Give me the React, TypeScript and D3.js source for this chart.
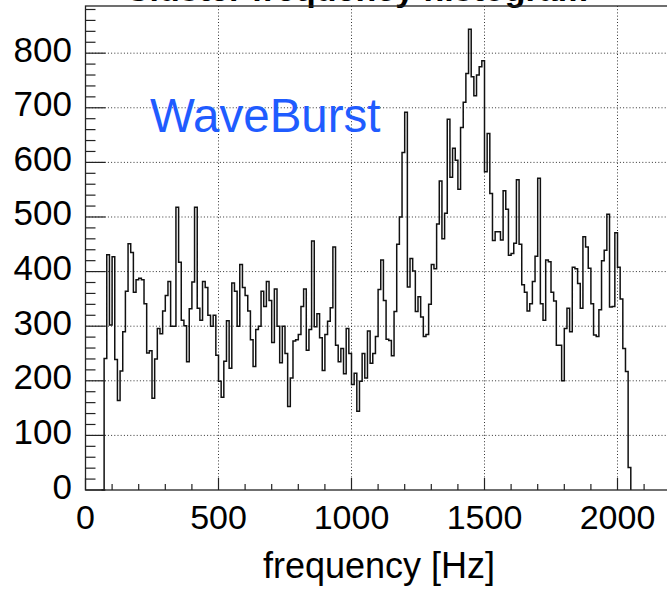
import React from 'react';
import * as d3 from 'd3';

// Histogram: 10 Hz bins, first non-empty bin starts at 70 Hz
const binLow = 70;
const binWidth = 10;
const counts = [
  241, 431, 302, 427, 239, 164, 218, 290, 364, 451,
  435, 362, 385, 388, 385, 341, 251, 255, 168, 240,
  296, 286, 328, 356, 382, 300, 300, 518, 417, 311,
  301, 235, 332, 381, 518, 333, 311, 382, 371, 320,
  300, 320, 247, 199, 170, 236, 310, 223, 379, 364,
  300, 413, 371, 356, 328, 275, 226, 294, 300, 364,
  336, 382, 347, 270, 368, 300, 233, 300, 250, 153,
  205, 273, 275, 285, 336, 368, 256, 294, 456, 299,
  323, 279, 219, 285, 309, 334, 445, 265, 235, 259,
  213, 296, 250, 193, 214, 144, 199, 250, 205, 291,
  232, 250, 281, 367, 421, 347, 276, 274, 246, 327,
  450, 500, 618, 692, 372, 424, 401, 327, 354, 317,
  281, 285, 340, 413, 405, 487, 566, 460, 507, 679,
  573, 626, 604, 551, 664, 710, 763, 844, 757, 722,
  760, 775, 786, 583, 653, 543, 457, 473, 473, 458,
  548, 514, 430, 433, 452, 568, 450, 376, 362, 328,
  341, 382, 428, 571, 341, 311, 421, 418, 362, 346,
  265, 265, 200, 296, 333, 290, 408, 405, 378, 333,
  464, 445, 406, 341, 284, 281, 330, 420, 439, 505,
  335, 336, 471, 408, 350, 259, 217, 41,
];

const xTicks = [0, 500, 1000, 1500, 2000];
const yTicks = [0, 100, 200, 300, 400, 500, 600, 700, 800];
const xDomain = [0, 2200];
const yDomain = [0, 886.4];
const xTitle = 'frequency [Hz]';
const titleText = 'Cluster frequency histogram';
const legendText = 'WaveBurst';

const FONT = '"Liberation Sans", Arial, Helvetica, sans-serif';

export default function App() {
  const W = 667;
  const H = 589;
  const left = 85.5;
  const right = 670.7;
  const top = 6;
  const bottom = 490;

  const x = d3.scaleLinear().domain(xDomain).range([left, right]);
  const y = d3.scaleLinear().domain(yDomain).range([bottom, top]);

  const pts: [number, number][] = [];
  pts.push([x(binLow - binWidth), y(0)]);
  pts.push([x(binLow), y(0)]);
  counts.forEach((c, i) => {
    const lo = binLow + i * binWidth;
    pts.push([x(lo), y(c)]);
    pts.push([x(lo + binWidth), y(c)]);
  });
  const lastEdge = binLow + counts.length * binWidth;
  pts.push([x(lastEdge), y(0)]);
  const path = d3.line()(pts) || '';

  const xMinor = d3.range(0, 2201, 100).filter((v) => v % 500 !== 0);
  const yMinor = d3.range(0, 881, 20).filter((v) => v % 100 !== 0);

  return (
    <svg
      width={W}
      height={H}
      viewBox={`0 0 ${W} ${H}`}
      style={{ position: 'absolute', left: 0, top: 0, background: '#fff' }}
      fontFamily={FONT}
    >
      <rect x={0} y={0} width={W} height={H} fill="#fff" />
      {/* cut-off title */}
      <text x={125} y={1} fontSize={34} fontWeight="bold" fill="#000">
        {titleText}
      </text>
      {/* grid */}
      <g stroke="#333" strokeWidth={1} strokeDasharray="1 2.2" fill="none">
        {xTicks.filter((v) => v > 0).map((v) => (
          <line key={'gx' + v} x1={x(v)} x2={x(v)} y1={top} y2={bottom} />
        ))}
        {yTicks.filter((v) => v > 0).map((v) => (
          <line key={'gy' + v} x1={left} x2={right} y1={y(v)} y2={y(v)} />
        ))}
      </g>
      {/* histogram */}
      <path d={path} fill="none" stroke="#111" strokeWidth={1.5} strokeLinejoin="miter" />
      {/* frame */}
      <rect
        x={left}
        y={top}
        width={right - left}
        height={bottom - top}
        fill="none"
        stroke="#222"
        strokeWidth={1.3}
      />
      {/* ticks */}
      <g stroke="#222" strokeWidth={1.2}>
        {xTicks.map((v) => (
          <line key={'xt' + v} x1={x(v)} x2={x(v)} y1={bottom} y2={bottom - 12} />
        ))}
        {xMinor.map((v) => (
          <line key={'xm' + v} x1={x(v)} x2={x(v)} y1={bottom} y2={bottom - 6} />
        ))}
        {yTicks.map((v) => (
          <line key={'yt' + v} x1={left} x2={left + 20} y1={y(v)} y2={y(v)} />
        ))}
        {yMinor.map((v) => (
          <line key={'ym' + v} x1={left} x2={left + 10} y1={y(v)} y2={y(v)} />
        ))}
      </g>
      {/* tick labels */}
      <g fontSize={35} fill="#000">
        {yTicks.map((v) => (
          <text key={'yl' + v} x={72} y={y(v) + 8.5} textAnchor="end">
            {v}
          </text>
        ))}
      </g>
      <g fontSize={34} fill="#000">
        {xTicks.map((v) => (
          <text key={'xl' + v} x={x(v)} y={529} textAnchor="middle">
            {v}
          </text>
        ))}
      </g>
      <text x={263} y={578} fontSize={36} fill="#000">
        {xTitle}
      </text>
      <text x={150} y={131.5} fontSize={47.5} fill="#1f5cff">
        {legendText}
      </text>
    </svg>
  );
}
